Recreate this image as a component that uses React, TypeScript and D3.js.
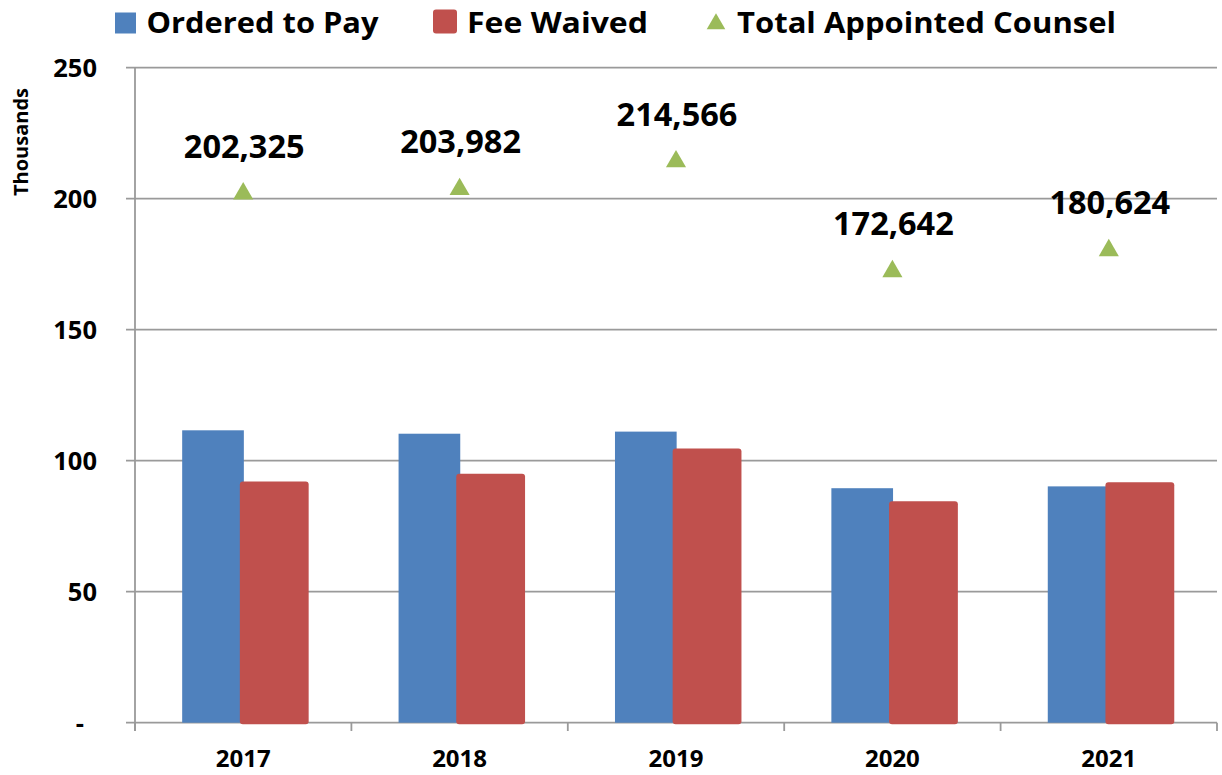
import React from "react";
import * as d3 from "d3";

const years = ["2017", "2018", "2019", "2020", "2021"];
const orderedToPay = [111.6, 110.3, 111.1, 89.5, 90.2];
const feeWaived = [92.1, 95.0, 104.7, 84.5, 91.8];
const totalCounsel = [202.325, 203.982, 214.566, 172.642, 180.624];
const totalLabels = ["202,325", "203,982", "214,566", "172,642", "180,624"];
const yTicks = [0, 50, 100, 150, 200, 250];
const yTickLabels = ["-", "50", "100", "150", "200", "250"];
const seriesNames = ["Ordered to Pay", "Fee Waived", "Total Appointed Counsel"];

const W = 1222;
const H = 775;
const BLUE = "#4F81BD";
const RED = "#C0504D";
const GREEN = "#9BBB59";
const GRID = "#9a9a9a";
const FONT = "'Open Sans', 'DejaVu Sans', sans-serif";

export default function App() {
  const x0 = 135;
  const x1 = 1217;
  const y = d3.scaleLinear().domain([0, 250]).range([722.7, 67.7]);
  const x = d3.scaleBand<string>().domain(years).range([x0, x1]).padding(0);
  const bw = x.bandwidth();
  const tri = d3.symbol().type(d3.symbolTriangle).size(175)();

  const legendItems = [
    { name: seriesNames[0], kind: "rect", color: BLUE, mx: 115, tx: 146.5, tw: 232 },
    { name: seriesNames[1], kind: "rrect", color: RED, mx: 433, tx: 467, tw: 181 },
    { name: seriesNames[2], kind: "tri", color: GREEN, mx: 706, tx: 737, tw: 379 },
  ];

  return (
    <svg width={W} height={H} style={{ position: "absolute", left: 0, top: 0, background: "#fff" }}>
      <rect x={0} y={0} width={W} height={H} fill="#fff" />
      {yTicks.map((t) => (
        <line key={"g" + t} x1={126} x2={x1} y1={y(t)} y2={y(t)} stroke={GRID} strokeWidth={1.8} />
      ))}
      <line x1={x0} x2={x0} y1={y(250)} y2={731} stroke={GRID} strokeWidth={1.8} />
      {years.map((yr) => (
        <line key={"xt" + yr} x1={x(yr)!} x2={x(yr)!} y1={y(0)} y2={731} stroke={GRID} strokeWidth={1.8} />
      ))}
      <line x1={x1} x2={x1} y1={y(0)} y2={731} stroke={GRID} strokeWidth={1.8} />
      {yTicks.map((t, i) => (
        <text
          key={"yl" + t}
          x={t === 0 ? 84 : 97}
          y={y(t)}
          dy="0.36em"
          textAnchor="end"
          fontFamily={FONT}
          fontWeight="bold"
          fontSize={25.5}
          fill="#000"
        >
          {yTickLabels[i]}
        </text>
      ))}
      <text
        transform={`translate(28,142) rotate(-90)`}
        textAnchor="middle"
        fontFamily={FONT}
        fontWeight="bold"
        fontSize={20}
        fill="#000"
      >
        Thousands
      </text>
      {years.map((yr, i) => {
        const c = x(yr)! + bw / 2;
        return (
          <g key={"b" + yr}>
            <rect x={c - 0.282 * bw} y={y(orderedToPay[i])} width={0.285 * bw} height={y(0) - y(orderedToPay[i])} fill={BLUE} />
            <rect
              x={c - 0.0155 * bw}
              y={y(feeWaived[i])}
              width={0.318 * bw}
              height={y(0) - y(feeWaived[i]) + 1.5}
              fill={RED}
              rx={3}
            />
          </g>
        );
      })}
      {years.map((yr, i) => {
        const c = x(yr)! + bw / 2;
        return (
          <g key={"t" + yr}>
            <path d={tri!} transform={`translate(${c},${y(totalCounsel[i]) + 1})`} fill={GREEN} />
            <text
              x={c + 1}
              y={y(totalCounsel[i]) - 35}
              textAnchor="middle"
              fontFamily={FONT}
              fontWeight="bold"
              fontSize={32.5}
              fill="#000"
            >
              {totalLabels[i]}
            </text>
          </g>
        );
      })}
      {years.map((yr) => (
        <text
          key={"xl" + yr}
          x={x(yr)! + bw / 2}
          y={767}
          textAnchor="middle"
          fontFamily={FONT}
          fontWeight="bold"
          fontSize={24}
          fill="#000"
        >
          {yr}
        </text>
      ))}
      {legendItems.map((it) => (
        <g key={it.name}>
          {it.kind === "rect" && <rect x={it.mx} y={12.5} width={21} height={21} fill={it.color} />}
          {it.kind === "rrect" && <rect x={it.mx} y={9.5} width={24} height={24} rx={3} fill={it.color} />}
          {it.kind === "tri" && (
            <path d={d3.symbol().type(d3.symbolTriangle).size(150)()!} transform={`translate(${it.mx + 10},${24})`} fill={it.color} />
          )}
          <text
            x={it.tx}
            y={33}
            fontFamily={FONT}
            fontWeight="bold"
            fontSize={28.5}
            fill="#000"
            textLength={it.tw}
            lengthAdjust="spacingAndGlyphs"
          >
            {it.name}
          </text>
        </g>
      ))}
    </svg>
  );
}
